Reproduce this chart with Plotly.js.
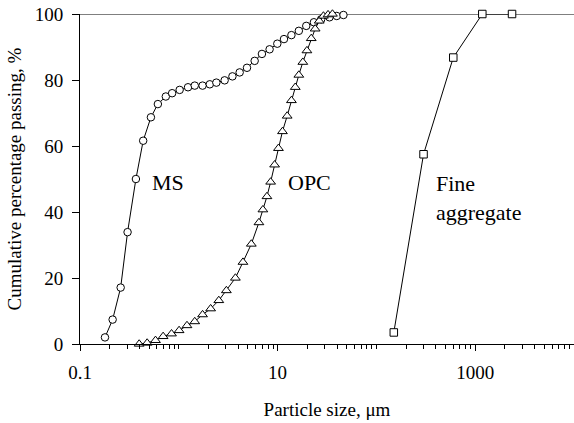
<!DOCTYPE html>
<html>
<head>
<meta charset="utf-8">
<script src="https://cdn.plot.ly/plotly-3.0.1.min.js"></script>
<style>html,body{margin:0;padding:0;background:#fff;}#chart{width:574px;height:423px;}</style>
</head>
<body>
<div id="chart"></div>
<script>
// Particle size (µm) and cumulative percentage passing (%)
var msSize = [0.179,0.214,0.258,0.303,0.368,0.436,0.522,0.614,0.739,0.856,1.02,1.24,1.45,1.74,2.06,2.40,2.91,3.49,4.13,4.90,5.86,6.94,8.30,9.93,11.6,13.8,16.4,19.5,23.3,27.6,33.5,39.7,46.4];
var msPassing = [2.0,7.4,17.1,33.9,50.0,61.6,68.7,72.7,75.0,76.0,77.0,77.8,78.3,78.3,78.7,79.2,79.9,81.1,82.3,83.7,85.8,87.9,89.3,91.0,92.4,93.6,94.9,96.4,97.5,98.4,99.0,99.4,99.7];

var opcSize = [0.397,0.478,0.581,0.694,0.844,1.007,1.21,1.45,1.74,2.10,2.54,3.03,3.74,4.46,5.42,6.47,7.10,7.80,8.50,9.33,10.2,11.2,12.5,13.8,15.1,16.4,18.0,19.8,21.9,24.0,26.4,29.1,32.4,35.9];
var opcPassing = [0,0.3,1.1,2.3,3.1,4.1,5.6,6.8,8.9,10.7,13.2,16.2,20.0,24.8,30.3,36.8,40.7,44.7,49.1,54.3,59.3,64.4,69.1,73.8,77.8,81.5,85.4,88.9,92.6,95.5,97.9,99.4,99.8,100];

var faSize = [150,300,600,1180,2360];
var faPassing = [3.5,57.5,86.8,100,100];

var xTickVals = [0.1,10,1000];
var xTickText = ['0.1','10','1000'];
var xMinorVals = [];
[0.1,1,10,100,1000].forEach(function(d){ for (var k=1;k<=9;k++) xMinorVals.push(d*k); });
xMinorVals.push(10000);

var seriesLabels = ['MS','OPC','Fine<br>aggregate'];

var FONT = '"Liberation Serif", "Times New Roman", serif';

function trace(x, y, sym, size) {
  return {
    x: x, y: y, type: 'scatter', mode: 'lines+markers',
    line: {color: '#000', width: 1},
    marker: {symbol: sym, size: size, color: '#fff', line: {color: '#000', width: 1}},
    showlegend: false, cliponaxis: false
  };
}

var data = [
  trace(msSize, msPassing, 'circle', 7.5),
  trace(opcSize, opcPassing, 'triangle-up', 8.5),
  trace(faSize, faPassing, 'square', 7.5)
];

var layout = {
  width: 574, height: 423,
  margin: {l: 80, r: 0, t: 14, b: 79},
  paper_bgcolor: '#fff', plot_bgcolor: '#fff',
  font: {family: FONT, size: 19, color: '#000'},
  showlegend: false,
  xaxis: {
    type: 'log', range: [-1, 4],
    tickmode: 'array', tickvals: xTickVals, ticktext: xTickText,
    ticks: 'outside', ticklen: 6, tickcolor: '#000', tickwidth: 1,
    ticklabelstandoff: 5,
    minor: {tickmode: 'array', tickvals: xMinorVals, ticks: 'outside', ticklen: 4, tickcolor: '#000', tickwidth: 1, showgrid: false},
    showline: true, linecolor: '#000', linewidth: 1,
    showgrid: false, zeroline: false,
    tickfont: {family: FONT, size: 19, color: '#000'},
    title: {text: 'Particle size, μm', font: {family: FONT, size: 19, color: '#000'}, standoff: 20}
  },
  yaxis: {
    range: [0, 100], tickmode: 'linear', tick0: 0, dtick: 20,
    ticks: 'outside', ticklen: 7, tickcolor: '#000', tickwidth: 1,
    ticklabelstandoff: 5,
    showline: true, linecolor: '#000', linewidth: 1,
    showgrid: false, zeroline: false,
    tickfont: {family: FONT, size: 19, color: '#000'},
    title: {text: 'Cumulative percentage passing, %', font: {family: FONT, size: 19, color: '#000'}, standoff: 8}
  },
  shapes: [
    {type: 'line', xref: 'paper', yref: 'y', x0: 0, x1: 1, y0: 100, y1: 100, line: {color: '#000', width: 1}, layer: 'below'}
  ],
  annotations: [
    {x: Math.log10(0.774), y: 48.8, xref: 'x', yref: 'y', text: seriesLabels[0], showarrow: false, font: {family: FONT, size: 22, color: '#000'}},
    {x: Math.log10(21.0), y: 48.8, xref: 'x', yref: 'y', text: seriesLabels[1], showarrow: false, font: {family: FONT, size: 22, color: '#000'}},
    {x: Math.log10(379.6), y: 44.3, xref: 'x', yref: 'y', text: seriesLabels[2], showarrow: false, xanchor: 'left', align: 'left', font: {family: FONT, size: 22, color: '#000'}}
  ]
};

Plotly.newPlot('chart', data, layout, {staticPlot: true, displayModeBar: false});
</script>
</body>
</html>
